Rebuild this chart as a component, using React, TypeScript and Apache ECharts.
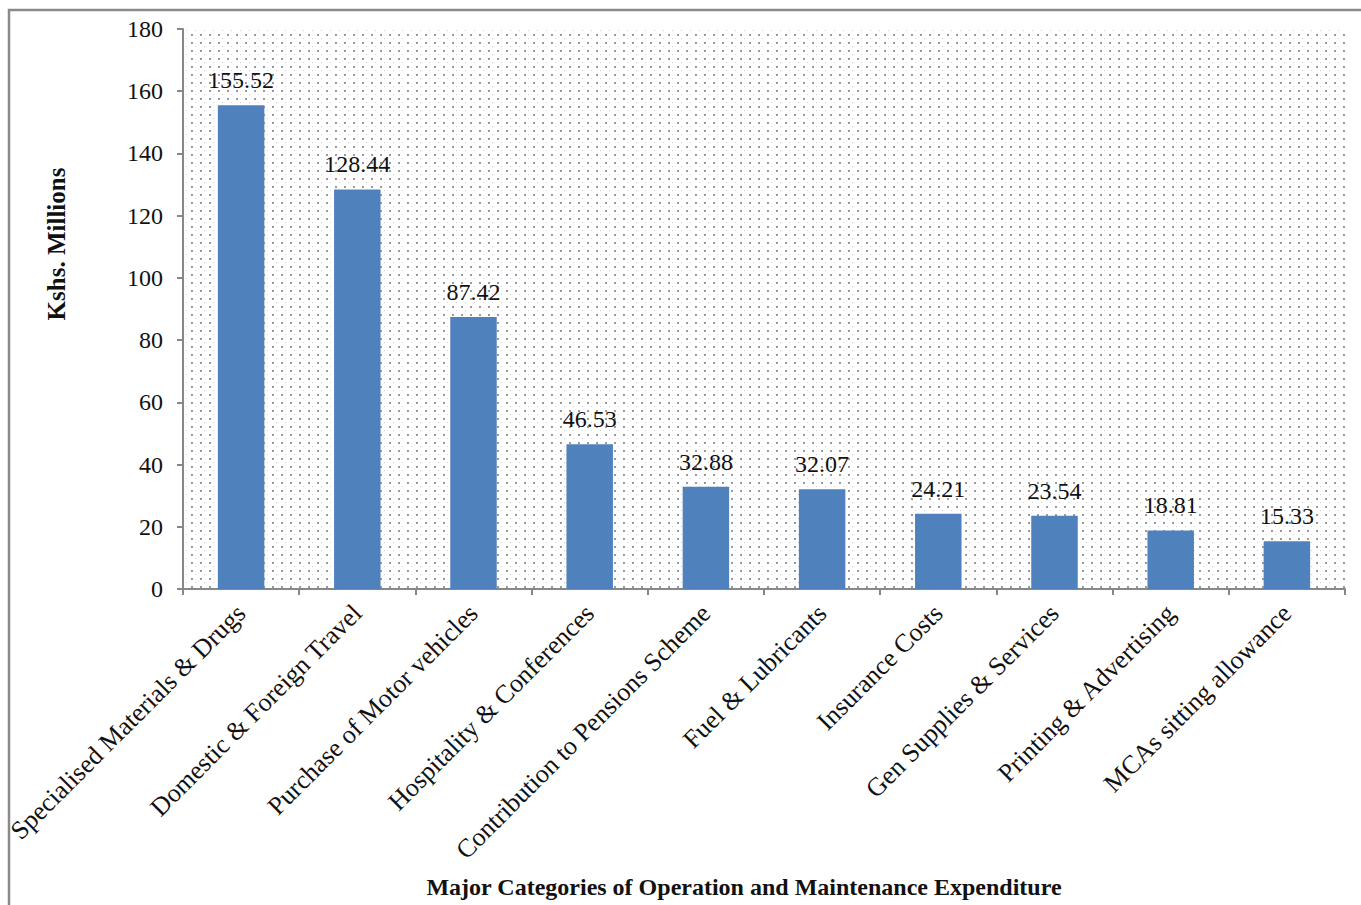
import React, { useEffect, useRef } from "react";
import * as echarts from "echarts";

const categories = [
  "Specialised Materials & Drugs",
  "Domestic & Foreign Travel",
  "Purchase of Motor vehicles",
  "Hospitality & Conferences",
  "Contribution to Pensions Scheme",
  "Fuel & Lubricants",
  "Insurance Costs",
  "Gen Supplies & Services",
  "Printing & Advertising",
  "MCAs sitting allowance",
];
const values = [155.52, 128.44, 87.42, 46.53, 32.88, 32.07, 24.21, 23.54, 18.81, 15.33];
const yTicks = [0, 20, 40, 60, 80, 100, 120, 140, 160, 180];

const FONT = "'Liberation Serif', 'Times New Roman', serif";

function makeDots() {
  const c = document.createElement("canvas");
  c.width = 9;
  c.height = 8;
  const ctx = c.getContext("2d")!;
  ctx.fillStyle = "#ffffff";
  ctx.fillRect(0, 0, 9, 8);
  ctx.fillStyle = "rgba(110,110,120,0.7)";
  ctx.fillRect(2, 2, 2, 2);
  ctx.fillStyle = "rgba(140,140,150,0.4)";
  ctx.fillRect(6, 6, 1, 1);
  return c;
}

export default function App() {
  const ref = useRef<HTMLDivElement>(null);
  useEffect(() => {
    document.body.style.margin = "0";
    const chart = echarts.init(ref.current!, null, { renderer: "svg" });
    const dots = makeDots();
    chart.setOption({
      animation: false,
      backgroundColor: "#ffffff",
      textStyle: { fontFamily: FONT },
      grid: {
        left: 183,
        right: 16,
        top: 29,
        bottom: 316,
        show: true,
        borderWidth: 0,
        backgroundColor: { image: dots, repeat: "repeat", imageWidth: 9, imageHeight: 8 } as any,
      },
      xAxis: {
        type: "category",
        data: categories,
        axisLine: { lineStyle: { color: "#878787", width: 2 } },
        axisTick: { show: true, length: 6, lineStyle: { color: "#878787", width: 2 } },
        axisLabel: {
          rotate: 45,
          interval: 0,
          color: "#111",
          fontSize: 26,
          fontFamily: FONT,
          margin: 20,
        },
      },
      yAxis: {
        type: "value",
        min: 0,
        max: 180,
        interval: 20,
        axisLine: { show: true, lineStyle: { color: "#878787", width: 2 } },
        axisTick: { show: true, length: 6, lineStyle: { color: "#878787", width: 2 } },
        splitLine: { show: false },
        axisLabel: {
          color: "#111",
          fontSize: 24,
          fontFamily: FONT,
          margin: 20,
          formatter: (v: number) => (yTicks.includes(v) ? String(v) : ""),
        },
      },
      series: [
        {
          type: "bar",
          data: values,
          barWidth: "40%",
          itemStyle: { color: "#4F81BD" },
          label: {
            show: true,
            position: "top",
            distance: 13,
            color: "#111",
            fontSize: 24,
            fontFamily: FONT,
            formatter: (p: any) => p.value.toFixed(2),
          },
        },
      ],
      graphic: [
        {
          type: "rect",
          shape: { x: 9, y: 10, width: 1450, height: 1000 },
          style: { fill: "none", stroke: "#8a8a8a", lineWidth: 2.5 },
          silent: true,
        },
        {
          type: "text",
          x: 56,
          y: 244,
          rotation: Math.PI / 2,
          style: {
            text: "Kshs. Millions",
            font: `bold 25px ${FONT}`,
            fill: "#111",
            textAlign: "center",
            textVerticalAlign: "middle",
          },
        },
        {
          type: "text",
          x: 744,
          y: 887,
          style: {
            text: "Major Categories of Operation and Maintenance Expenditure",
            font: `bold 24px ${FONT}`,
            fill: "#111",
            textAlign: "center",
            textVerticalAlign: "middle",
          },
        },
      ],
    });
    return () => chart.dispose();
  }, []);
  return <div ref={ref} style={{ width: 1361, height: 905 }} />;
}
